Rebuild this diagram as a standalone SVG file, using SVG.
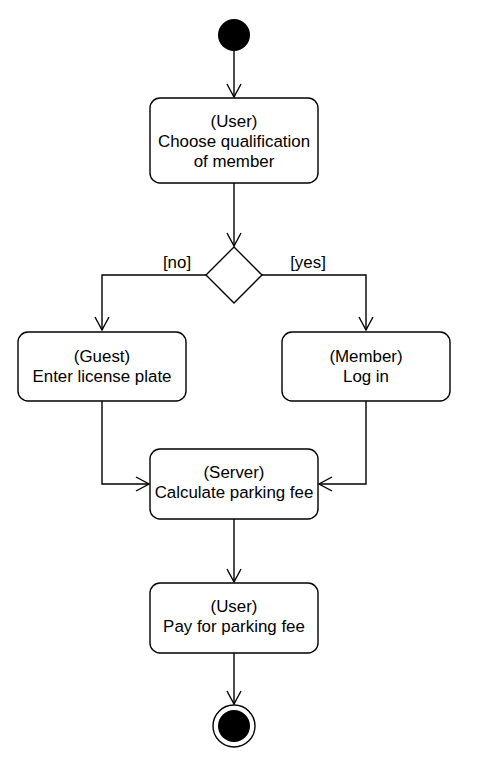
<svg xmlns="http://www.w3.org/2000/svg" width="490" height="758" viewBox="0 0 490 758">
<style>
.box{fill:#fff;stroke:#000;stroke-width:1.4}
.t{font-family:"Liberation Sans",Arial,sans-serif;font-size:16.9px;fill:#000;text-anchor:middle}
.c{fill:none;stroke:#000;stroke-width:1.4}
</style>
<defs>
<marker id="open" markerWidth="16" markerHeight="16" viewBox="0 0 16 16" refX="14" refY="8" orient="auto" markerUnits="userSpaceOnUse">
<path d="M1,1 L14,8 L1,15" fill="none" stroke="#000" stroke-width="1.4"/>
</marker>
</defs>
<rect width="490" height="758" fill="#fff"/>
<g id="connectors">
<line class="c" x1="234" y1="51" x2="234" y2="97" marker-end="url(#open)"/>
<line class="c" x1="234" y1="183" x2="234" y2="246" marker-end="url(#open)"/>
<polyline class="c" points="206,275 102,275 102,330" marker-end="url(#open)"/>
<polyline class="c" points="262,275 366,275 366,330" marker-end="url(#open)"/>
<polyline class="c" points="102,401 102,484 149,484" marker-end="url(#open)"/>
<polyline class="c" points="366,401 366,484 319,484" marker-end="url(#open)"/>
<line class="c" x1="234" y1="519" x2="234" y2="582" marker-end="url(#open)"/>
<line class="c" x1="234" y1="653" x2="234" y2="704" marker-end="url(#open)"/>
<text class="t" x="177" y="268">[no]</text>
<text class="t" x="308" y="268">[yes]</text>
</g>
<g id="start"><circle cx="234" cy="35" r="16" fill="#000"/></g>
<g id="choose">
<rect class="box" x="150" y="98" width="168" height="85" rx="10"/>
<text class="t" x="234" y="127">(User)</text>
<text class="t" x="234" y="147">Choose qualification</text>
<text class="t" x="234" y="167">of member</text>
</g>
<g id="decision"><polygon points="234,247 262,275 234,303 206,275" fill="#fff" stroke="#000" stroke-width="1.4"/></g>
<g id="guest">
<rect class="box" x="18" y="332" width="168" height="69" rx="10"/>
<text class="t" x="102" y="362">(Guest)</text>
<text class="t" x="102" y="382">Enter license plate</text>
</g>
<g id="member">
<rect class="box" x="282" y="332" width="168" height="69" rx="10"/>
<text class="t" x="366" y="362">(Member)</text>
<text class="t" x="366" y="382">Log in</text>
</g>
<g id="server">
<rect class="box" x="150" y="449" width="168" height="70" rx="10"/>
<text class="t" x="234" y="478">(Server)</text>
<text class="t" x="234" y="498">Calculate parking fee</text>
</g>
<g id="pay">
<rect class="box" x="150" y="583" width="168" height="70" rx="10"/>
<text class="t" x="234" y="612">(User)</text>
<text class="t" x="234" y="632">Pay for parking fee</text>
</g>
<g id="end">
<circle cx="234" cy="726" r="21" fill="#fff" stroke="#000" stroke-width="1.4"/>
<circle cx="234" cy="726" r="16" fill="#000"/>
</g>
</svg>
